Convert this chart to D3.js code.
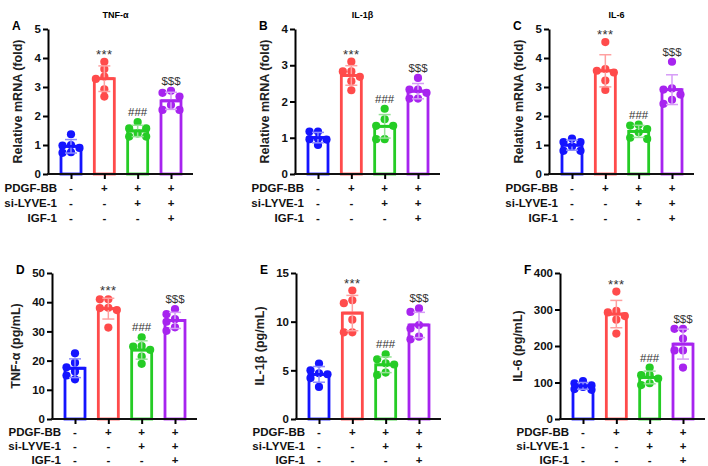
<!DOCTYPE html>
<html>
<head>
<meta charset="utf-8">
<script src="https://cdn.jsdelivr.net/npm/d3@7"></script>
<style>
  body { margin: 0; background: #fff; }
  text { font-family: "Liberation Sans", Arial, sans-serif; }
</style>
</head>
<body>
<script>
// groups and treatment table
var groups = ["Control", "PDGF-BB", "PDGF-BB + si-LYVE-1", "PDGF-BB + si-LYVE-1 + IGF-1"];
var rowLabels = ["PDGF-BB", "si-LYVE-1", "IGF-1"];
var rowSigns = [["-", "+", "+", "+"],
                ["-", "-", "+", "+"],
                ["-", "-", "-", "+"]];
var sigMarks = ["", "***", "###", "$$$"];
var colors = ["#1414ff", "#ff4b4b", "#25cc25", "#a724ef"];
var errColors = ["#8c8cff", "#ffa0a0", "#96e296", "#d69cf7"];

// individual replicates, one array per group
var tnfMrna = [[1.37, 1.0, 0.98, 0.9, 0.73, 0.75],
               [3.87, 3.62, 3.36, 3.28, 2.92, 2.67],
               [1.79, 1.57, 1.57, 1.40, 1.29, 1.29],
               [2.87, 2.80, 2.67, 2.38, 2.21, 2.21]];
var il1bMrna = [[1.17, 1.17, 0.96, 0.95, 0.97, 0.80],
                [3.10, 2.83, 2.83, 2.68, 2.56, 2.31],
                [1.80, 1.51, 1.33, 1.33, 0.96, 0.96],
                [2.65, 2.33, 2.33, 2.24, 2.08, 2.08]];
var il6Mrna = [[1.22, 1.10, 1.10, 0.95, 0.80, 0.80],
               [4.55, 3.62, 3.50, 3.56, 3.22, 2.90],
               [1.67, 1.70, 1.55, 1.44, 1.21, 1.25],
               [3.87, 2.95, 2.74, 2.91, 2.56, 2.42]];
var tnfElisa = [[22.5, 19.3, 17.7, 16.3, 14.9, 13.6],
                [41.0, 41.0, 38.1, 38.0, 37.3, 31.3],
                [28.0, 24.8, 23.7, 25.0, 21.4, 18.9],
                [37.6, 35.9, 34.2, 33.3, 30.2, 31.4]];
var il1bElisa = [[5.7, 5.0, 4.7, 4.6, 4.2, 3.3],
                 [13.2, 12.2, 11.9, 10.2, 8.9, 8.9],
                 [6.65, 6.14, 5.73, 5.6, 4.77, 4.53],
                 [11.36, 11.0, 9.65, 9.3, 8.19, 8.46]];
var il6Elisa = [[104, 98, 92, 88, 82, 80],
                [349, 296, 292, 282, 272, 234],
                [141, 120, 120, 111, 93, 98],
                [247, 247, 220, 188, 188, 141]];

var ticks5 = [0, 1, 2, 3, 4, 5];
var ticks4 = [0, 1, 2, 3, 4];
var ticks50 = [0, 10, 20, 30, 40, 50];
var ticks15 = [0, 5, 10, 15];
var ticks400 = [0, 100, 200, 300, 400];

var panels = [
  {letter: "A", title: "TNF-α", ylabel: "Relative mRNA (fold)", values: tnfMrna, ticks: ticks5, row: 0, x0: 48},
  {letter: "B", title: "IL-1β", ylabel: "Relative mRNA (fold)", values: il1bMrna, ticks: ticks4, row: 0, x0: 295},
  {letter: "C", title: "IL-6", ylabel: "Relative mRNA (fold)", values: il6Mrna, ticks: ticks5, row: 0, x0: 549},
  {letter: "D", title: "", ylabel: "TNF-α (pg/mL)", values: tnfElisa, ticks: ticks50, row: 1, x0: 52},
  {letter: "E", title: "", ylabel: "IL-1β (pg/mL)", values: il1bElisa, ticks: ticks15, row: 1, x0: 296},
  {letter: "F", title: "", ylabel: "IL-6 (pg/mL)", values: il6Elisa, ticks: ticks400, row: 1, x0: 560}
];

var w = 708;
var h = 466;
var rowBase = [174, 419];
var rowTop = [29, 273];
var tableOffsets = [[18, 33, 48], [17, 31, 45]];
var axisLen = 145;
var barW = 20;
var r = 4.1;

var svg = d3.select("body")
            .append("svg")
            .attr("width", w)
            .attr("height", h);

svg.append("rect").attr("width", w).attr("height", h).attr("fill", "#fff");

// simple beeswarm so dots at similar heights spread sideways
function swarm(vals, y) {
  var order = vals.map(function(v, i) { return {v: v, i: i}; })
                  .sort(function(a, b) { return b.v - a.v; });
  var placed = [];
  var step = 8.5;
  var cands = [0, -step, step];
  order.forEach(function(o) {
    var cy = y(o.v);
    var best = 0, bestD = -1;
    for (var k = 0; k < cands.length; k++) {
      var dx = cands[k];
      var minD = placed.length ? d3.min(placed, function(p) { return Math.hypot(p.dx - dx, p.cy - cy); }) : Infinity;
      if (minD >= 2 * r - 1.2) { best = dx; break; }
      if (minD > bestD) { bestD = minD; best = dx; }
    }
    placed.push({dx: best, cy: cy, v: o.v});
  });
  return placed;
}

panels.forEach(function(p) {
  var y0 = rowBase[p.row];
  var y = d3.scaleLinear()
            .domain([0, d3.max(p.ticks)])
            .range([y0, rowTop[p.row]]);
  var x = d3.scalePoint()
            .domain(groups)
            .range([p.x0 + 23, p.x0 + axisLen - 22]);

  var g = svg.append("g");

  // title and panel letter
  if (p.title) {
    g.append("text")
      .attr("x", (p.x0 + p.x0 + axisLen) / 2 - 5)
      .attr("y", 18)
      .attr("text-anchor", "middle")
      .attr("font-size", 9)
      .attr("font-weight", "bold")
      .text(p.title);
  }
  g.append("text")
    .attr("x", p.x0 - 36)
    .attr("y", rowTop[p.row] + 1)
    .attr("font-size", 12)
    .attr("font-weight", "bold")
    .text(p.letter);

  // y axis
  var yAxis = g.append("g")
    .attr("transform", "translate(" + p.x0 + ",0)")
    .call(d3.axisLeft(y).tickValues(p.ticks).tickFormat(d3.format("d"))
            .tickSize(5).tickSizeOuter(0).tickPadding(2));
  yAxis.select(".domain").attr("stroke-width", 2);
  yAxis.selectAll(".tick line").attr("stroke-width", 2);
  yAxis.selectAll(".tick text")
    .attr("font-size", 11.5)
    .attr("font-weight", "bold")
    .attr("font-family", "Liberation Sans, Arial, sans-serif")
    .attr("fill", "#111");

  var digits = String(d3.max(p.ticks)).length;
  g.append("text")
    .attr("transform", "translate(" + (p.x0 - 20 - 6 * digits) + "," + ((y0 + rowTop[p.row]) / 2) + ") rotate(-90)")
    .attr("text-anchor", "middle")
    .attr("font-size", 12.5)
    .attr("font-weight", "bold")
    .attr("fill", "#222")
    .text(p.ylabel);

  // bars, dots, error bars
  groups.forEach(function(grp, i) {
    var vals = p.values[i];
    var m = d3.mean(vals);
    var sd = d3.deviation(vals);
    var cx = x(grp);

    g.append("rect")
      .attr("x", cx - barW / 2)
      .attr("y", y(m))
      .attr("width", barW)
      .attr("height", y0 - y(m))
      .attr("fill", "#fff")
      .attr("stroke", colors[i])
      .attr("stroke-width", 2.8);

    g.selectAll(null)
      .data(swarm(vals, y))
      .enter()
      .append("circle")
      .attr("cx", function(d) { return cx + d.dx; })
      .attr("cy", function(d) { return d.cy; })
      .attr("r", r)
      .attr("fill", colors[i]);

    var eb = g.append("g")
      .attr("stroke", errColors[i])
      .attr("stroke-width", 1.5);
    eb.append("line")
      .attr("x1", cx).attr("x2", cx)
      .attr("y1", y(m - sd)).attr("y2", y(m + sd));
    [m - sd, m + sd].forEach(function(v) {
      eb.append("line")
        .attr("x1", cx - 6).attr("x2", cx + 6)
        .attr("y1", y(v)).attr("y2", y(v));
    });
    // mean line redrawn on top
    g.append("line")
      .attr("x1", cx - barW / 2).attr("x2", cx + barW / 2)
      .attr("y1", y(m)).attr("y2", y(m))
      .attr("stroke", colors[i])
      .attr("stroke-width", 2.8);

    if (sigMarks[i]) {
      var top = Math.min(y(d3.max(vals)), y(m + sd));
      var star = sigMarks[i] == "***";
      g.append("text")
        .attr("x", cx)
        .attr("y", star ? top - 3 : top - 6)
        .attr("text-anchor", "middle")
        .attr("font-size", star ? 13 : 11.5)
        .attr("letter-spacing", star ? 0.5 : 0)
        .attr("fill", "#333")
        .text(sigMarks[i]);
    }
  });

  // x axis line with ticks at bar centres
  g.append("line")
    .attr("x1", p.x0 - 1).attr("x2", p.x0 + axisLen)
    .attr("y1", y0).attr("y2", y0)
    .attr("stroke", "#111")
    .attr("stroke-width", 2);
  var xAxis = g.append("g")
    .attr("transform", "translate(0," + y0 + ")")
    .call(d3.axisBottom(x).tickSize(5).tickFormat(""));
  xAxis.select(".domain").remove();
  xAxis.selectAll(".tick line").attr("stroke-width", 2);

  // treatment table
  rowLabels.forEach(function(lab, j) {
    var ty = y0 + tableOffsets[p.row][j];
    g.append("text")
      .attr("x", x(groups[0]) - 14)
      .attr("y", ty)
      .attr("text-anchor", "end")
      .attr("font-size", 11.5)
      .attr("font-weight", "bold")
      .attr("fill", "#111")
      .text(lab);
    groups.forEach(function(grp, i) {
      g.append("text")
        .attr("x", x(grp))
        .attr("y", ty)
        .attr("text-anchor", "middle")
        .attr("font-size", 11.5)
        .attr("font-weight", "bold")
        .attr("fill", "#111")
        .text(rowSigns[j][i]);
    });
  });
});
</script>
</body>
</html>
